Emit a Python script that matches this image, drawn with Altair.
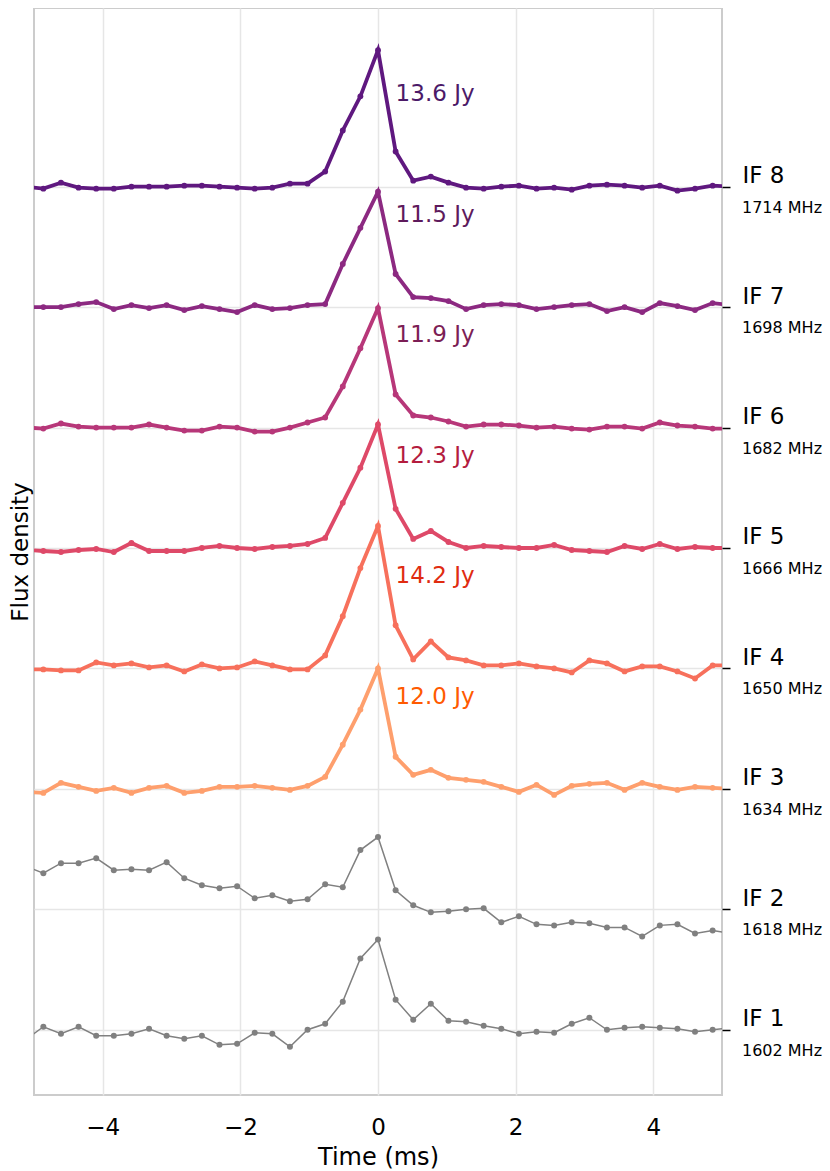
import altair as alt
import pandas as pd

# ---------------- data ----------------
dt_ms = 0.256
bins = list(range(-20, 21))
time_ms = [round(b * dt_ms, 3) for b in bins]

if_names = ["IF 1", "IF 2", "IF 3", "IF 4", "IF 5", "IF 6", "IF 7", "IF 8"]
if_freqs = ["1602 MHz", "1618 MHz", "1634 MHz", "1650 MHz",
            "1666 MHz", "1682 MHz", "1698 MHz", "1714 MHz"]
offset_step = 12.0  # Jy between successive IF baselines

flux_if1 = [-1.0, 0.3, -0.4, 0.3, -0.6, -0.6, -0.4, 0.1, -0.6, -0.9, -0.6, -1.5, -1.4, -0.3, -0.4, -1.7, 0.0, 0.6, 2.8, 7.1, 9.0,
            3.0, 1.0, 2.6, 0.9, 0.8, 0.4, 0.1, -0.4, -0.2, -0.3, 0.6, 1.2, 0.0, 0.2, 0.3, 0.2, 0.1, -0.2, 0.0, 0.2]
flux_if2 = [4.3, 3.6, 4.6, 4.6, 5.1, 3.9, 4.0, 3.9, 4.7, 3.1, 2.4, 2.1, 2.3, 1.1, 1.4, 0.8, 1.0, 2.5, 2.2, 5.9, 7.2,
            1.9, 0.4, -0.3, -0.2, 0.0, 0.1, -1.3, -0.7, -1.5, -1.6, -1.3, -1.4, -1.8, -1.8, -2.7, -1.6, -1.5, -2.4, -2.1, -2.4]
flux_if3 = [-0.3, -0.4, 0.6, 0.2, -0.2, 0.1, -0.4, 0.1, 0.3, -0.4, -0.2, 0.2, 0.2, 0.3, 0.1, -0.1, 0.3, 1.2, 4.4, 7.9, 12.0,
            3.2, 1.4, 1.9, 1.1, 0.9, 0.7, 0.2, -0.3, 0.4, -0.6, 0.3, 0.5, 0.6, -0.1, 0.6, 0.2, -0.1, 0.2, 0.1, 0.0]
flux_if4 = [-0.1, -0.1, -0.2, -0.2, 0.6, 0.3, 0.5, 0.1, 0.3, -0.3, 0.4, 0.0, 0.1, 0.7, 0.3, -0.1, -0.1, 1.3, 5.2, 10.0, 14.2,
            4.3, 0.9, 2.7, 1.1, 0.8, 0.3, 0.3, 0.5, 0.2, 0.0, -0.4, 0.8, 0.5, -0.3, 0.2, 0.2, -0.3, -1.0, 0.3, 0.3]
flux_if5 = [-0.2, -0.3, -0.4, -0.2, -0.1, -0.4, 0.5, -0.3, -0.3, -0.3, 0.0, 0.2, 0.0, -0.1, 0.1, 0.2, 0.4, 1.0, 4.5, 8.0, 12.3,
            3.9, 0.9, 1.7, 0.6, 0.0, 0.2, 0.1, 0.0, 0.0, 0.3, -0.2, -0.3, -0.4, 0.2, -0.1, 0.4, -0.1, 0.1, 0.0, 0.0]
flux_if6 = [0.0, -0.1, 0.4, 0.1, 0.0, 0.0, 0.0, 0.3, 0.0, -0.3, -0.3, 0.1, 0.0, -0.4, -0.4, 0.0, 0.5, 1.0, 4.1, 7.9, 11.9,
            3.3, 1.2, 1.0, 0.6, 0.1, 0.3, 0.3, 0.2, 0.0, 0.1, -0.1, -0.2, 0.1, 0.1, -0.1, 0.5, 0.2, 0.1, -0.1, -0.1]
flux_if7 = [0.0, 0.0, 0.0, 0.3, 0.5, -0.2, 0.2, -0.1, 0.2, -0.3, 0.1, -0.2, -0.5, 0.2, -0.2, -0.1, 0.2, 0.3, 4.3, 7.9, 11.5,
            3.3, 1.0, 0.9, 0.6, -0.2, 0.2, 0.3, 0.2, -0.2, 0.0, 0.2, 0.3, -0.4, 0.0, -0.5, 0.4, 0.1, -0.3, 0.4, 0.2]
flux_if8 = [0.0, -0.2, 0.4, -0.1, -0.2, -0.2, 0.0, 0.0, 0.0, 0.1, 0.1, 0.0, -0.1, -0.2, -0.1, 0.3, 0.3, 1.5, 5.6, 9.0, 13.6,
            3.5, 0.6, 1.0, 0.4, -0.1, -0.2, 0.0, 0.1, -0.2, -0.1, -0.3, 0.1, 0.2, 0.1, -0.1, 0.1, -0.4, -0.2, 0.1, 0.0]

all_flux = [flux_if1, flux_if2, flux_if3, flux_if4, flux_if5, flux_if6, flux_if7, flux_if8]

# peak annotations for IF 3 .. IF 8
peak_names = ["IF 3", "IF 4", "IF 5", "IF 6", "IF 7", "IF 8"]
peak_labels = ["12.0 Jy", "14.2 Jy", "12.3 Jy", "11.9 Jy", "11.5 Jy", "13.6 Jy"]

x_ticks = [-4, -2, 0, 2, 4]

# ---------------- styles ----------------
line_colors = ["#fe9f6d", "#f7705c", "#de4968", "#b73779", "#8c2981", "#5f187f"]
text_colors = ["#ff5a00", "#e02c10", "#b41c3e", "#7c1e55", "#5e1a5c", "#4c1a68"]
gray = "#808080"
label_t = 0.256      # time at which the peak labels start
label_rise = 9.2     # Jy above each baseline for the peak labels
FONT = "DejaVu Sans"

# ---------------- tables ----------------
rows = []
for i, (name, flux) in enumerate(zip(if_names, all_flux)):
    for t, f in zip(time_ms, flux):
        rows.append({"IF": name, "t": t, "flux": f, "y": f + offset_step * i})
df = pd.DataFrame(rows)
df_color = df[df["IF"].isin(peak_names)]
df_gray = df[~df["IF"].isin(peak_names)]

df_peak = pd.DataFrame({
    "IF": peak_names,
    "label": peak_labels,
    "t": [label_t] * len(peak_names),
    "y": [offset_step * if_names.index(n) + label_rise for n in peak_names],
})
df_freq = pd.DataFrame({
    "IF": if_names,
    "freq": if_freqs,
    "base": [offset_step * i for i in range(len(if_names))],
    "tmax": [5.0] * len(if_names),
})
baselines = [offset_step * i for i in range(len(if_names))]

W, H = 688, 1087
x_scale = alt.Scale(domain=[-5, 5], nice=False, zero=False)
y_scale = alt.Scale(domain=[-6.5, 101.8], nice=False, zero=False)

x_axis = alt.Axis(
    values=x_ticks, title="Time (ms)", grid=True, ticks=False, tickSize=0,
    domain=False, labelPadding=21, titlePadding=6, labelFontSize=23, titleFontSize=24)


def xenc(field="t"):
    return alt.X(f"{field}:Q", scale=x_scale, axis=x_axis, title="Time (ms)")


colored = alt.Chart(df_color).mark_line(
    strokeWidth=3.8, clip=True,
    point=alt.OverlayMarkDef(size=34, filled=True, clip=True),
).encode(
    x=xenc(),
    y=alt.Y("y:Q", scale=y_scale, axis=alt.Axis(
        orient="left", values=baselines, labels=False, ticks=False, tickSize=0, domain=False,
        grid=True, title="Flux density", titlePadding=2, titleFontSize=23)),
    color=alt.Color("IF:N", scale=alt.Scale(domain=peak_names, range=line_colors), legend=None),
)

grays = alt.Chart(df_gray).mark_line(
    strokeWidth=1.5, color=gray, clip=True,
    point=alt.OverlayMarkDef(size=36, filled=True, color=gray, clip=True),
).encode(
    x=xenc(),
    y=alt.Y("y:Q", scale=y_scale, axis=None),
    detail="IF:N",
)

peaks = alt.Chart(df_peak).mark_text(
    align="left", baseline="middle", fontSize=23, font=FONT,
).encode(
    x=xenc(),
    y=alt.Y("y:Q", scale=y_scale, axis=None),
    text="label:N",
    color=alt.Color("IF:N", scale=alt.Scale(domain=peak_names, range=text_colors), legend=None),
)

freqs = alt.Chart(df_freq).mark_text(
    align="left", baseline="middle", fontSize=16, font=FONT, dx=20, dy=21, color="black",
).encode(
    x=xenc("tmax"),
    y=alt.Y("base:Q", scale=y_scale, axis=alt.Axis(
        orient="right", values=baselines, labelExpr="'IF ' + (round(datum.value / 12) + 1)",
        ticks=True, tickSize=8, tickWidth=1.5, tickColor="black", labelPadding=12,
        labelFontSize=23, labelColor="black", labelBaseline="alphabetic", labelOffset=-4,
        domain=False, grid=False, title=None)),
    text="freq:N",
)

chart = alt.layer(colored, grays, peaks, freqs).resolve_scale(
    color="independent"
).resolve_axis(
    y="independent"
).properties(
    width=W, height=H,
    padding={"left": 26, "top": 0, "right": 100, "bottom": 76},
    autosize=alt.AutoSizeParams(type="none"),
).configure_view(
    stroke="#cccccc", strokeWidth=2,
).configure_axis(
    labelFont=FONT, titleFont=FONT, labelColor="black", titleColor="black",
    titleFontWeight="normal", gridColor="#e6e6e6", gridWidth=1.5,
).configure_text(font=FONT)

chart.save("out.html", embed_options={"renderer": "svg", "actions": False})
